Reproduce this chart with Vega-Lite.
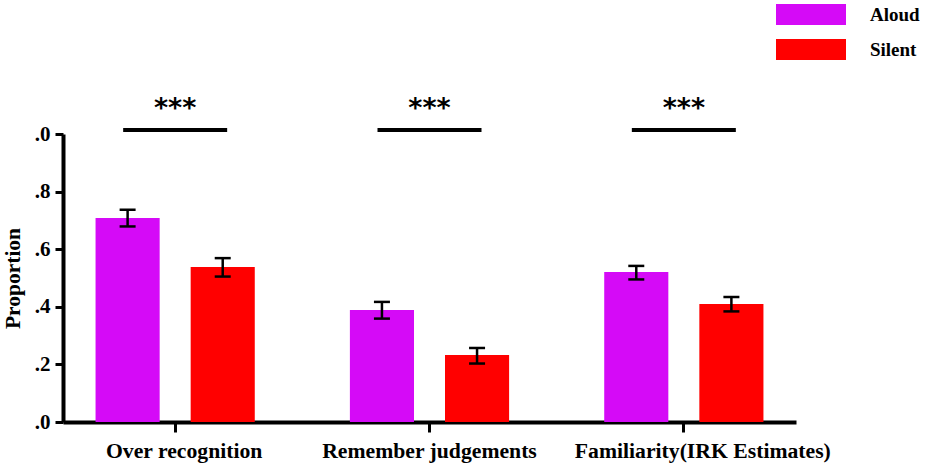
{
  "$schema": "https://vega.github.io/schema/vega-lite/v6.json",
  "autosize": {"type": "none"},
  "width": 733,
  "height": 288,
  "padding": {"left": 63, "top": 134, "right": 139, "bottom": 48},
  "background": "white",
  "config": {"view": {"stroke": null}, "font": "Liberation Serif"},
  "datasets": {
    "bars": [
      {"measure": "Over recognition", "condition": "Aloud", "mean": 0.708, "lo": 0.679, "hi": 0.737},
      {"measure": "Over recognition", "condition": "Silent", "mean": 0.538, "lo": 0.505, "hi": 0.569},
      {"measure": "Remember judgements", "condition": "Aloud", "mean": 0.389, "lo": 0.359, "hi": 0.417},
      {"measure": "Remember judgements", "condition": "Silent", "mean": 0.233, "lo": 0.203, "hi": 0.257},
      {"measure": "Familiarity(IRK Estimates)", "condition": "Aloud", "mean": 0.521, "lo": 0.495, "hi": 0.542},
      {"measure": "Familiarity(IRK Estimates)", "condition": "Silent", "mean": 0.41, "lo": 0.384, "hi": 0.434}
    ],
    "sig": [
      {"measure": "Over recognition", "line": 1.014, "star": 1.087, "label": "***"},
      {"measure": "Remember judgements", "line": 1.014, "star": 1.087, "label": "***"},
      {"measure": "Familiarity(IRK Estimates)", "line": 1.014, "star": 1.087, "label": "***"}
    ]
  },
  "layer": [
    {
      "data": {"name": "bars"},
      "mark": {"type": "bar"},
      "encoding": {
        "x": {
          "field": "measure", "type": "nominal",
          "sort": ["Over recognition", "Remember judgements", "Familiarity(IRK Estimates)"],
          "scale": {"paddingInner": 0.374, "paddingOuter": 0.128},
          "axis": {
            "title": null, "labelAngle": 0, "labelFont": "Liberation Serif", "labelFontSize": 21.7,
            "labelFontWeight": "bold", "labelColor": "black", "labelLimit": 0, "labelPadding": 8,
            "labelOffset": {"condition": [
              {"test": "datum.value == 'Familiarity(IRK Estimates)'", "value": 19},
              {"test": "datum.value == 'Over recognition'", "value": 9}
            ], "value": 0},
            "domainColor": "black", "domainWidth": 4, "tickColor": "black", "tickWidth": 3, "tickSize": 10
          }
        },
        "xOffset": {"field": "condition", "type": "nominal", "scale": {"paddingInner": 0.326, "paddingOuter": 0}},
        "y": {
          "field": "mean", "type": "quantitative", "title": "Proportion",
          "scale": {"domain": [0, 1], "nice": false},
          "axis": {
            "values": [0, 0.2, 0.4, 0.6, 0.8, 1],
            "labelExpr": "substring(format(datum.value, '.1f'), 1)",
            "grid": false, "labelFont": "Liberation Serif", "labelFontSize": 21, "labelFontWeight": "bold",
            "labelColor": "black", "labelPadding": 5, "titleFont": "Liberation Serif", "titleFontSize": 21.5,
            "titleFontWeight": "bold", "titleColor": "black", "titlePadding": 10,
            "domainColor": "black", "domainWidth": 4, "tickColor": "black", "tickWidth": 3, "tickSize": 8
          }
        },
        "color": {
          "field": "condition", "type": "nominal",
          "scale": {"domain": ["Aloud", "Silent"], "range": ["#D50AF7", "#FF0000"]},
          "legend": {
            "title": null, "orient": "none", "legendX": 713, "legendY": -136.75, "padding": 0,
            "symbolType": "M-1,-0.3H1V0.3H-1Z", "symbolSize": 4900, "symbolStrokeWidth": 0,
            "labelFont": "Liberation Serif", "labelFontSize": 19, "labelFontWeight": "bold",
            "labelColor": "black", "labelOffset": 24, "rowPadding": 0, "clipHeight": 34.5
          }
        }
      }
    },
    {
      "data": {"name": "bars"},
      "mark": {"type": "rule", "color": "black", "strokeWidth": 2.5, "opacity": 1},
      "encoding": {
        "x": {"field": "measure", "type": "nominal", "sort": ["Over recognition", "Remember judgements", "Familiarity(IRK Estimates)"]},
        "xOffset": {"field": "condition", "type": "nominal"},
        "y": {"field": "lo", "type": "quantitative", "title": "Proportion"},
        "y2": {"field": "hi"}
      }
    },
    {
      "data": {"name": "bars"},
      "mark": {"type": "tick", "color": "black", "thickness": 2.5, "size": 16, "opacity": 1},
      "encoding": {
        "x": {"field": "measure", "type": "nominal", "sort": ["Over recognition", "Remember judgements", "Familiarity(IRK Estimates)"]},
        "xOffset": {"field": "condition", "type": "nominal"},
        "y": {"field": "lo", "type": "quantitative", "title": "Proportion"}
      }
    },
    {
      "data": {"name": "bars"},
      "mark": {"type": "tick", "color": "black", "thickness": 2.5, "size": 16, "opacity": 1},
      "encoding": {
        "x": {"field": "measure", "type": "nominal", "sort": ["Over recognition", "Remember judgements", "Familiarity(IRK Estimates)"]},
        "xOffset": {"field": "condition", "type": "nominal"},
        "y": {"field": "hi", "type": "quantitative", "title": "Proportion"}
      }
    },
    {
      "data": {"name": "sig"},
      "mark": {"type": "tick", "color": "black", "thickness": 4, "size": 104, "opacity": 1},
      "encoding": {
        "x": {"field": "measure", "type": "nominal", "sort": ["Over recognition", "Remember judgements", "Familiarity(IRK Estimates)"]},
        "y": {"field": "line", "type": "quantitative", "title": "Proportion"}
      }
    },
    {
      "data": {"name": "sig"},
      "mark": {"type": "text", "font": "DejaVu Sans", "fontWeight": "bold", "fontSize": 27, "baseline": "middle", "color": "black"},
      "encoding": {
        "x": {"field": "measure", "type": "nominal", "sort": ["Over recognition", "Remember judgements", "Familiarity(IRK Estimates)"]},
        "y": {"field": "star", "type": "quantitative", "title": "Proportion"},
        "text": {"field": "label"}
      }
    }
  ]
}
